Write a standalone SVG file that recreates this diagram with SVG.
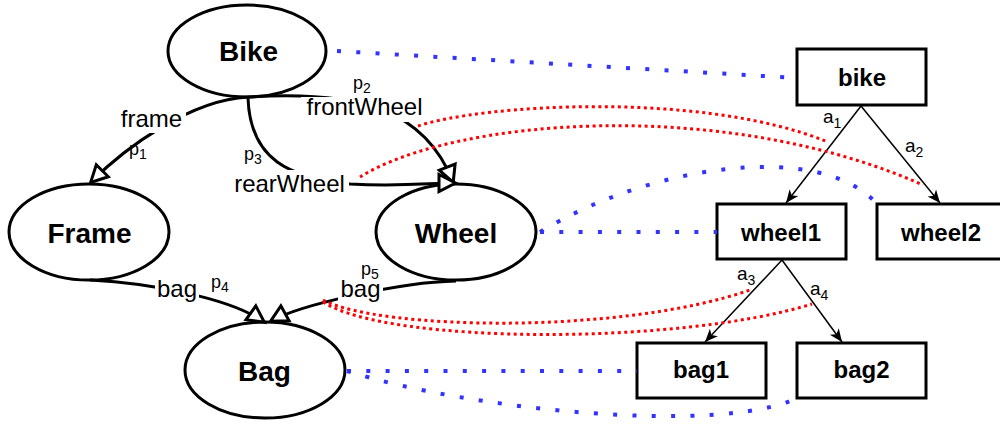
<svg xmlns="http://www.w3.org/2000/svg" width="1000" height="425" viewBox="0 0 1000 425">
<style>
.ell{fill:#fff;stroke:#000;stroke-width:3}
.box{fill:#fff;stroke:#000;stroke-width:3}
.nl{font-family:"Liberation Sans",Arial,sans-serif;font-weight:bold;font-size:28px;text-anchor:middle}
.bl{font-family:"Liberation Sans",Arial,sans-serif;font-weight:bold;font-size:24px;text-anchor:middle}
.el{font-family:"Liberation Sans",Arial,sans-serif;font-size:24px;text-anchor:middle}
.pl{font-family:"Liberation Sans",Arial,sans-serif;font-size:18px}
.al{font-family:"Liberation Sans",Arial,sans-serif;font-size:19px}
.sub{font-size:14px}
.edge{fill:none;stroke:#000;stroke-width:3;marker-end:url(#open)}
.tree{fill:none;stroke:#000;stroke-width:1.5;marker-end:url(#classic)}
.red{fill:none;stroke:#ff0000;stroke-width:3;stroke-dasharray:3 3.5}
.blue{fill:none;stroke:#3333ff;stroke-width:4;stroke-dasharray:4 15.3}
.lbg{fill:#fff}
</style>
<defs>
<marker id="open" markerUnits="userSpaceOnUse" markerWidth="26" markerHeight="26" refX="16" refY="8.5" orient="auto" overflow="visible">
<path d="M0,0 L16.5,8.5 L0,17 z" fill="#fff" stroke="#000" stroke-width="3"/>
</marker>
<marker id="classic" markerUnits="userSpaceOnUse" markerWidth="16" markerHeight="16" refX="13" refY="5.5" orient="auto" overflow="visible">
<path d="M0,0 L13,5.5 L0,11 L3.5,5.5 z" fill="#000"/>
</marker>
</defs>

<g id="Bike"><ellipse class="ell" cx="247" cy="51" rx="79" ry="46"/><text class="nl" x="248.5" y="61">Bike</text></g>
<g id="Frame"><ellipse class="ell" cx="89" cy="232" rx="80" ry="48"/><text class="nl" x="89.5" y="243">Frame</text></g>
<g id="Wheel"><ellipse class="ell" cx="456" cy="232" rx="80" ry="48"/><text class="nl" x="456" y="243">Wheel</text></g>
<g id="Bag"><ellipse class="ell" cx="265" cy="370" rx="80" ry="48"/><text class="nl" x="264.5" y="381">Bag</text></g>

<g id="bike"><rect class="box" x="797" y="49" width="129" height="56"/><text class="bl" x="862" y="86">bike</text></g>
<g id="wheel1"><rect class="box" x="717" y="204" width="129" height="55"/><text class="bl" x="781" y="241">wheel1</text></g>
<g id="wheel2"><rect class="box" x="877" y="204" width="129" height="55"/><text class="bl" x="941" y="241">wheel2</text></g>
<g id="bag1"><rect class="box" x="637" y="343" width="129" height="55"/><text class="bl" x="701" y="378">bag1</text></g>
<g id="bag2"><rect class="box" x="797" y="343" width="129" height="55"/><text class="bl" x="861.5" y="378">bag2</text></g>

<g id="connectors">
<path class="edge" d="M248,97 C190,100 125,148 91,182"/>
<path class="edge" d="M248,97 C360,90 425,110 453,182"/>
<path class="edge" d="M248,98 C250,160 290,178 350,184 C400,187 430,183 455,183"/>
<path class="edge" d="M90,280 C150,283 230,298 264,322"/>
<path class="edge" d="M456,281 C400,282 300,305 271,321"/>
<path class="tree" d="M861,106 L786,203"/>
<path class="tree" d="M861,106 L940,203"/>
<path class="tree" d="M782,260 L705,342"/>
<path class="tree" d="M782,260 L842,342"/>
</g>

<g id="edge-labels">
<rect class="lbg" x="118" y="104" width="68" height="29"/>
<text class="el" x="151.5" y="127">frame</text>
<rect class="lbg" x="301" y="97" width="127" height="25"/>
<text class="el" x="364.5" y="115">frontWheel</text>
<rect class="lbg" x="230" y="170" width="119" height="27"/>
<text class="el" x="289.5" y="192">rearWheel</text>
<rect class="lbg" x="155" y="276" width="44" height="28"/>
<text class="el" x="177" y="297">bag</text>
<rect class="lbg" x="338" y="277" width="45" height="27"/>
<text class="el" x="360.5" y="297">bag</text>
<text class="pl" x="129" y="155">p<tspan class="sub" dy="4">1</tspan></text>
<text class="pl" x="353" y="89">p<tspan class="sub" dy="4">2</tspan></text>
<text class="pl" x="244" y="160">p<tspan class="sub" dy="4">3</tspan></text>
<text class="pl" x="211" y="288">p<tspan class="sub" dy="4">4</tspan></text>
<text class="pl" x="361" y="275">p<tspan class="sub" dy="4">5</tspan></text>
<text class="al" x="823" y="123">a<tspan class="sub" dy="5">1</tspan></text>
<text class="al" x="905" y="152">a<tspan class="sub" dy="5">2</tspan></text>
<text class="al" x="737" y="280">a<tspan class="sub" dy="5">3</tspan></text>
<text class="al" x="810" y="295">a<tspan class="sub" dy="5">4</tspan></text>
</g>

<g id="mappings">
<path class="red" d="M418,126 C480,105 700,90 828,142"/>
<path class="red" d="M360,177 C450,120 720,95 923,185"/>
<path class="red" d="M323,300 C380,330 620,335 750,290"/>
<path class="red" d="M323,302 C390,345 680,345 812,304"/>
<path class="blue" d="M337,51 L797,78"/>
<path class="blue" d="M540,232 L717,232"/>
<path class="blue" d="M540,232 C650,165 820,140 877,204"/>
<path class="blue" d="M347,371 L637,371"/>
<path class="blue" d="M347,371 C470,410 720,435 797,398"/>
</g>
</svg>
